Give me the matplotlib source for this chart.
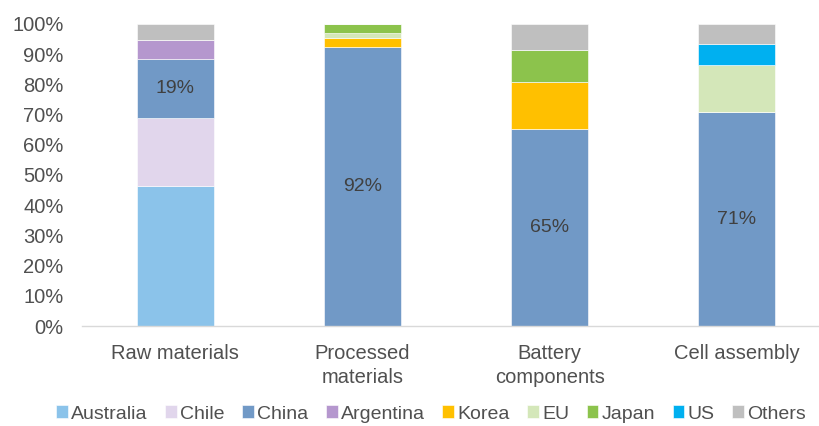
import matplotlib
matplotlib.use("Agg")
import matplotlib.pyplot as plt
import numpy as np

plt.rcParams['font.family'] = ['Liberation Sans', 'DejaVu Sans']

categories = ["Raw materials", "Processed\nmaterials", "Battery\ncomponents", "Cell assembly"]
series_names = ["Australia", "Chile", "China", "Argentina", "Korea", "EU", "Japan", "US", "Others"]
australia = [46.3, 0, 0, 0]
chile = [22.6, 0, 0, 0]
china = [19.5, 92.3, 65.1, 70.8]
argentina = [6.3, 0, 0, 0]
korea = [0, 3.1, 15.6, 0]
eu = [0, 1.5, 0, 15.6]
japan = [0, 3.1, 10.7, 0]
us = [0, 0, 0, 7.1]
others = [5.3, 0, 8.6, 6.5]
china_labels = ["19%", "92%", "65%", "71%"]

colors = ["#8BC3EA", "#E1D6EC", "#7199C6", "#B597CE", "#FFC000", "#D4E7B9", "#8CC34C", "#00B0F0", "#BFBFBF"]
data = [australia, chile, china, argentina, korea, eu, japan, us, others]

fig = plt.figure(figsize=(8.2, 4.26), dpi=100)
ax = fig.add_axes([81.5/820, 100/426, 749/820, 302/426])

x = np.arange(len(categories))
bottom = np.zeros(len(categories))
for name, vals, c in zip(series_names, data, colors):
    vals = np.array(vals, dtype=float)
    ax.bar(x, vals, width=0.41, bottom=bottom, color=c, label=name, edgecolor='white', linewidth=0.4)
    if name == "China":
        for xi, b, v, lab in zip(x, bottom, vals, china_labels):
            ax.text(xi, b + v / 2, lab, ha='center', va='center', fontsize=14, color='#404040')
    bottom += vals

ax.set_xlim(-0.5, 3.5)
ax.set_ylim(0, 100)
ax.set_yticks(np.arange(0, 101, 10))
ax.set_yticklabels([f"{v}%" for v in range(0, 101, 10)])
ax.set_xticks(x)
ax.set_xticklabels(categories, linespacing=1.35)
ax.tick_params(axis='both', length=0, labelsize=14.5, colors='#505050')
ax.tick_params(axis='y', pad=13)
ax.tick_params(axis='x', pad=13)
for s in ['top', 'right', 'left']:
    ax.spines[s].set_visible(False)
ax.spines['bottom'].set_color('#D9D9D9')
ax.spines['bottom'].set_linewidth(1)

handles, labels = ax.get_legend_handles_labels()
leg = fig.legend(handles, labels, loc='center', bbox_to_anchor=(431/820, 1 - 414/426), ncol=9,
                 frameon=False, fontsize=14, handlelength=0.6, handleheight=0.6,
                 handletextpad=0.15, columnspacing=0.92, borderaxespad=0)
for t in leg.get_texts():
    t.set_color('#505050')

fig.savefig("out.png", dpi=100)
